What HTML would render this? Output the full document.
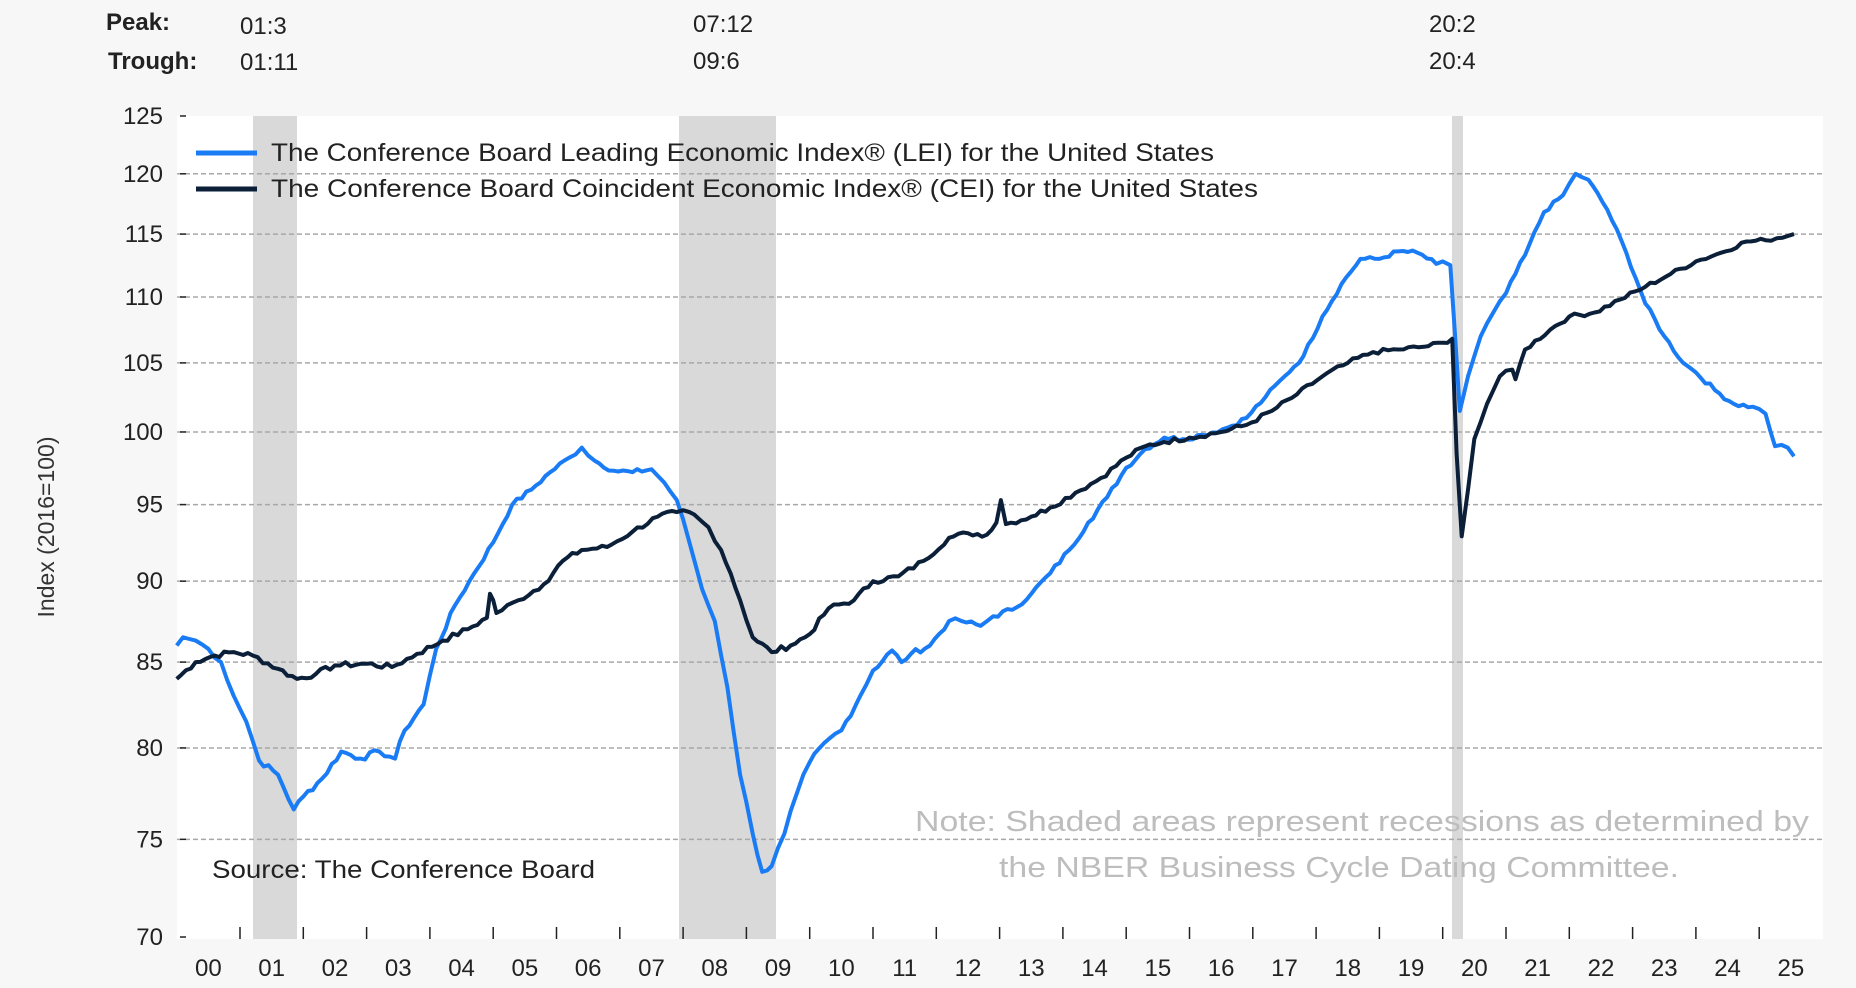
<!DOCTYPE html>
<html><head><meta charset="utf-8">
<style>
html,body{margin:0;padding:0;background:#f7f7f7;}
svg{display:block;font-family:"Liberation Sans",Arial,sans-serif;}
</style></head>
<body>
<svg id="c" width="1856" height="988" viewBox="0 0 1856 988" xmlns="http://www.w3.org/2000/svg">
<rect x="0" y="0" width="1856" height="988" fill="#f7f7f7"/>
<rect x="177" y="116" width="1646" height="823" fill="#ffffff"/>
<rect x="253" y="116" width="44" height="823" fill="#d9d9d9"/>
<rect x="679" y="116" width="97" height="823" fill="#d9d9d9"/>
<rect x="1452" y="116" width="11" height="823" fill="#d9d9d9"/>
<g id="grid"></g>
<g id="ticks"></g>
<g font-size="24" fill="#222">
<text x="106" y="30" font-weight="bold">Peak:</text>
<text x="108" y="69" font-weight="bold">Trough:</text>
<text x="240" y="34">01:3</text>
<text x="240" y="70">01:11</text>
<text x="693" y="32">07:12</text>
<text x="693" y="69">09:6</text>
<text x="1429" y="32">20:2</text>
<text x="1429" y="69">20:4</text>
</g>
<text transform="translate(54,527) rotate(-90)" text-anchor="middle" font-size="23" fill="#333">Index (2016=100)</text>
<g id="lines"></g>
<line x1="196" y1="153" x2="257" y2="153" stroke="#1a7cf5" stroke-width="5"/>
<line x1="196" y1="189" x2="257" y2="189" stroke="#0b1f38" stroke-width="5"/>
<text x="271" y="161" font-size="25" fill="#222" textLength="943" lengthAdjust="spacingAndGlyphs">The Conference Board Leading Economic Index® (LEI) for the United States</text>
<text x="271" y="197" font-size="25" fill="#222" textLength="987" lengthAdjust="spacingAndGlyphs">The Conference Board Coincident Economic Index® (CEI) for the United States</text>
<text x="212" y="878" font-size="25" fill="#222" textLength="383" lengthAdjust="spacingAndGlyphs">Source: The Conference Board</text>
<text x="1362" y="831" font-size="29" fill="#bdbdbd" text-anchor="middle" textLength="894" lengthAdjust="spacingAndGlyphs">Note: Shaded areas represent recessions as determined by</text>
<text x="1339" y="877" font-size="29" fill="#bdbdbd" text-anchor="middle" textLength="680" lengthAdjust="spacingAndGlyphs">the NBER Business Cycle Dating Committee.</text>
</svg>
<script>
var NS="http://www.w3.org/2000/svg";
function el(n,a,p){var e=document.createElementNS(NS,n);for(var k in a)e.setAttribute(k,a[k]);p.appendChild(e);return e;}
function Y(v){return 116+1416*(Math.log(125)-Math.log(v));}
function X(t){return 240+63.3*(t-2001);}
var g=document.getElementById("grid"),tk=document.getElementById("ticks");
[70,75,80,85,90,95,100,105,110,115,120,125].forEach(function(v){
 var y=Y(v);
 if(v!=70&&v!=125) el("line",{x1:177,y1:y,x2:1823,y2:y,stroke:"#a8a8a8","stroke-width":1.5,"stroke-dasharray":"5,3"},g);
 el("line",{x1:180,y1:y,x2:186,y2:y,stroke:"#222","stroke-width":1.5},tk);
 var t=el("text",{x:163,y:y+8,"font-size":24,fill:"#222","text-anchor":"end"},tk);t.textContent=v;
});
for(var yr=2001;yr<=2025;yr++){var x=X(yr);el("line",{x1:x,y1:927,x2:x,y2:939,stroke:"#222","stroke-width":1.5},tk);}
for(var yr=2000;yr<=2025;yr++){var x=X(yr+0.5);var t=el("text",{x:x,y:976,"font-size":24,fill:"#222","text-anchor":"middle"},tk);t.textContent=String(yr%100).padStart(2,"0");}
var LEI=[[2000.0,86],[2000.1,86.5],[2000.3,86.3],[2000.5,85.8],[2000.7,85],[2000.9,83],[2001.1,81.5],[2001.3,79.3],[2001.6,78.5],[2001.85,76.6],[2002.0,77.3],[2002.3,78.3],[2002.6,79.8],[2002.9,79.4],[2003.2,79.8],[2003.45,79.4],[2003.6,81],[2003.9,82.5],[2004.1,85.8],[2004.4,88.5],[2004.7,90.5],[2005.0,92.5],[2005.3,95],[2005.6,96],[2005.9,97.2],[2006.2,98.2],[2006.4,98.9],[2006.6,98],[2006.9,97.3],[2007.2,97.2],[2007.5,97.4],[2007.7,96.5],[2007.9,95.3],[2008.1,92.5],[2008.3,89.5],[2008.5,87.5],[2008.7,83.5],[2008.9,78.5],[2009.1,75.3],[2009.25,73.3],[2009.4,73.6],[2009.6,75.3],[2009.8,77.5],[2010.0,79.2],[2010.3,80.5],[2010.5,81],[2010.8,83],[2011.0,84.5],[2011.3,85.7],[2011.45,85],[2011.6,85.5],[2011.9,86],[2012.2,87.5],[2012.4,87.5],[2012.7,87.2],[2012.9,87.8],[2013.2,88.2],[2013.5,89.2],[2013.8,90.5],[2014.1,92],[2014.4,93.8],[2014.7,95.5],[2015.0,97.5],[2015.3,98.8],[2015.6,99.6],[2015.9,99.5],[2016.2,99.8],[2016.6,100.3],[2016.9,101],[2017.2,102.5],[2017.5,104],[2017.8,105.5],[2018.1,108.5],[2018.4,111],[2018.7,113],[2019.0,113],[2019.3,113.6],[2019.6,113.5],[2019.9,112.6],[2020.0,112.8],[2020.12,112.5],[2020.27,101.5],[2020.4,104],[2020.6,107],[2020.8,108.8],[2021.0,110.3],[2021.3,113.3],[2021.6,116.8],[2021.9,118.2],[2022.1,120],[2022.3,119.5],[2022.6,117],[2022.9,113.5],[2023.2,109.5],[2023.5,107],[2023.8,105],[2024.0,104.3],[2024.3,103],[2024.6,102],[2024.9,101.8],[2025.1,101.3],[2025.25,99],[2025.45,98.9],[2025.55,98.3]];
var CEI=[[2000.0,84],[2000.3,85],[2000.6,85.4],[2000.9,85.6],[2001.2,85.4],[2001.6,84.6],[2001.9,84],[2002.2,84.3],[2002.5,84.8],[2003.0,84.9],[2003.4,84.7],[2003.8,85.5],[2004.2,86.3],[2004.6,87],[2004.9,87.7],[2004.95,89.2],[2005.0,88.8],[2005.05,88],[2005.4,88.8],[2005.8,89.8],[2006.1,91.3],[2006.4,92],[2006.8,92.2],[2007.2,93.2],[2007.6,94.2],[2007.9,94.5],[2008.1,94.5],[2008.4,93.5],[2008.6,92],[2008.75,90.5],[2008.9,88.8],[2009.1,86.5],[2009.4,85.6],[2009.7,86],[2010.0,86.7],[2010.3,88.3],[2010.7,88.8],[2011.0,90],[2011.4,90.3],[2011.8,91.3],[2012.2,92.8],[2012.5,93.1],[2012.8,93],[2012.95,93.8],[2013.02,95.3],[2013.1,93.7],[2013.5,94.2],[2013.8,94.8],[2014.2,95.8],[2014.6,96.8],[2015.0,98.2],[2015.3,99],[2015.6,99.3],[2016.0,99.6],[2016.5,100],[2016.9,100.5],[2017.3,101.5],[2017.7,102.7],[2018.1,104],[2018.5,105],[2018.9,105.8],[2019.3,106],[2019.7,106.2],[2020.0,106.5],[2020.15,106.8],[2020.22,98.5],[2020.3,92.9],[2020.4,96],[2020.5,99.5],[2020.7,102],[2020.9,104],[2021.1,104.5],[2021.15,103.8],[2021.3,106],[2021.7,107.5],[2022.0,108.5],[2022.4,108.8],[2022.8,109.8],[2023.2,110.8],[2023.6,111.8],[2024.0,112.8],[2024.4,113.5],[2024.8,114.4],[2025.1,114.5],[2025.55,115]];
function path(d,col){
 var pts=[],seed=7;
 function rnd(){seed=(seed*9301+49297)%233280;return seed/233280-0.5;}
 for(var i=0;i<d.length-1;i++){
  var a=d[i],b=d[i+1],n=Math.max(1,Math.round((b[0]-a[0])*12));
  for(var j=0;j<n;j++){var f=j/n,v=a[1]+(b[1]-a[1])*f;if(j>0)v+=rnd()*0.35;pts.push(X(a[0]+(b[0]-a[0])*f).toFixed(1)+","+Y(v).toFixed(1));}
 }
 var l=d[d.length-1];pts.push(X(l[0]).toFixed(1)+","+Y(l[1]).toFixed(1));
 el("polyline",{points:pts.join(" "),fill:"none",stroke:col,"stroke-width":4,"stroke-linejoin":"round"},document.getElementById("lines"));
}
path(LEI,"#1a7cf5");
path(CEI,"#0b1f38");
</script>
</body></html>
